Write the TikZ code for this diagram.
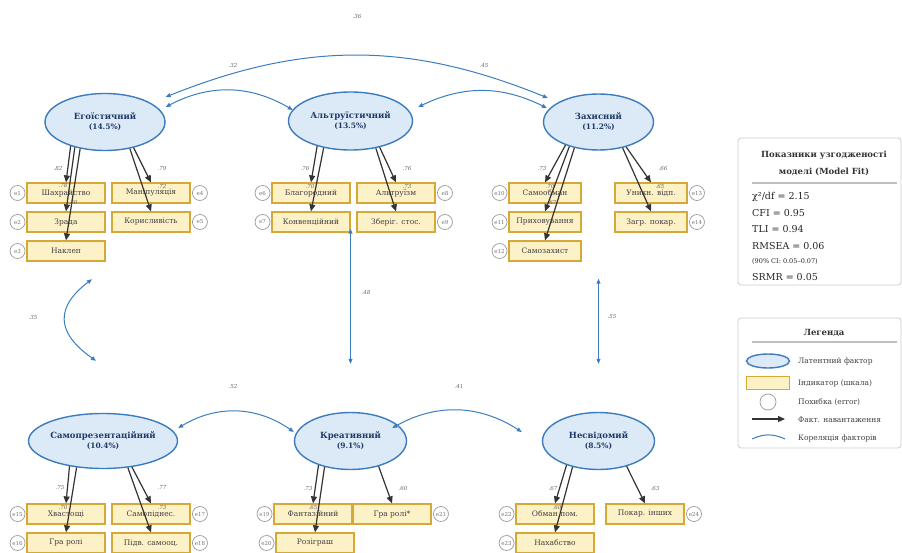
\documentclass[tikz,border=0pt]{standalone}
\usepackage{fontspec}
\setmainfont{DejaVu Serif}
\usetikzlibrary{shapes.geometric,arrows.meta,positioning}
\definecolor{latfill}{HTML}{DCEAF7}
\definecolor{latline}{HTML}{3C7BBD}
\definecolor{lattext}{HTML}{1F3A66}
\definecolor{indfill}{HTML}{FDF1C7}
\definecolor{indline}{HTML}{D6A836}
\definecolor{corrblue}{HTML}{3A7EC0}
\definecolor{loadgray}{HTML}{333333}
\definecolor{errgray}{HTML}{9A9A9A}
\definecolor{panelgray}{HTML}{CCCCCC}

\begin{document}
\begin{tikzpicture}[x=1pt,y=-1pt]
  \useasboundingbox (0,0) rectangle (902,553);

  \tikzstyle{latent}=[ellipse, draw=latline, line width=1.4pt, fill=latfill, inner sep=0pt, align=center, text=lattext, font=\bfseries\fontsize{8.5}{10}\selectfont]
  \tikzstyle{ind}=[rectangle, draw=indline, line width=1.2pt, fill=indfill, minimum width=78pt, minimum height=20pt, inner sep=0pt, text=black!75, font=\fontsize{7.5}{9}\selectfont]
  \tikzstyle{err}=[circle, draw=errgray, line width=0.7pt, fill=white, minimum size=15pt, inner sep=0pt, text=black!55, font=\fontsize{5.5}{6}\selectfont]
  \tikzstyle{load}=[draw=loadgray, line width=1.2pt, -{Triangle[length=7pt,width=6pt]}]
  \tikzstyle{corr}=[draw=corrblue, line width=1pt, {Triangle[length=5pt,width=4pt]}-{Triangle[length=5pt,width=4pt]}]
  \tikzstyle{coef}=[inner sep=0pt, text=black!60, font=\itshape\fontsize{5.5}{6}\selectfont]
  \tikzstyle{panel}=[draw=panelgray, fill=white, line width=0.8pt, rounded corners=3pt]
  \tikzstyle{fit}=[anchor=west, inner sep=0pt, text=black!85, font=\fontsize{9.5}{11}\selectfont]
  \tikzstyle{legtext}=[anchor=west, inner sep=0pt, text=black!75, font=\fontsize{7.5}{9}\selectfont]

  % latent factors
  \node[latent, minimum width=120pt, minimum height=57pt] (ego) at (105,122) {Егоїстичний\\{\fontsize{7.5}{9}\selectfont (14.5\%)}};
  \node[latent, minimum width=124pt, minimum height=58pt] (alt) at (350.5,121) {Альтруїстичний\\{\fontsize{7.5}{9}\selectfont (13.5\%)}};
  \node[latent, minimum width=110pt, minimum height=56pt] (zah) at (598.5,122) {Захисний\\{\fontsize{7.5}{9}\selectfont (11.2\%)}};
  \node[latent, minimum width=134pt, minimum height=55pt] (sam) at (103,441) {Самопрезентаційний\\{\fontsize{7.5}{9}\selectfont (10.4\%)}};
  \node[latent, minimum width=112pt, minimum height=57pt] (kre) at (350.5,441) {Креативний\\{\fontsize{7.5}{9}\selectfont (9.1\%)}};
  \node[latent, minimum width=112pt, minimum height=57pt] (nes) at (598.5,441) {Несвідомий\\{\fontsize{7.5}{9}\selectfont (8.5\%)}};

  % indicators
  \node[ind] (shah) at (66,193) {Шахрайство};
  \node[ind] (zrada) at (66,222) {Зрада};
  \node[ind] (naklep) at (66,251) {Наклеп};
  \node[ind] (manip) at (151,193) {Маніпуляція};
  \node[ind] (koryst) at (151,222) {Корисливість};

  \node[ind] (blag) at (311,193) {Благородний};
  \node[ind] (konv) at (311,222) {Конвенційний};
  \node[ind] (altr) at (396,193) {Альтруїзм};
  \node[ind] (zber) at (396,222) {Зберіг. стос.};

  \node[ind, minimum width=72pt] (samoob) at (545,193) {Самообман};
  \node[ind, minimum width=72pt] (pryh) at (545,222) {Приховування};
  \node[ind, minimum width=72pt] (samoz) at (545,251) {Самозахист};
  \node[ind, minimum width=72pt] (unykn) at (651,193) {Уникн. відп.};
  \node[ind, minimum width=72pt] (zagr) at (651,222) {Загр. покар.};

  \node[ind] (hvast) at (66,514) {Хвастощі};
  \node[ind] (graroli) at (66,543) {Гра ролі};
  \node[ind] (samop) at (151,514) {Самопіднес.};
  \node[ind] (pidv) at (151,543) {Підв. самооц.};

  \node[ind] (fant) at (313,514) {Фантазійний};
  \node[ind] (rozig) at (315,543) {Розіграш};
  \node[ind] (grarolis) at (392,514) {Гра ролі*};

  \node[ind] (obman) at (555,514) {Обман пом.};
  \node[ind] (nahab) at (555,543) {Нахабство};
  \node[ind] (pokar) at (645,514) {Покар. інших};

  % errors
  \node[err, left=1pt of shah] (e1) {e1};
  \node[err, left=1pt of zrada] (e2) {e2};
  \node[err, left=1pt of naklep] (e3) {e3};
  \node[err, right=1.5pt of manip] (e4) {e4};
  \node[err, right=1.5pt of koryst] (e5) {e5};
  \node[err, left=1pt of blag] (e6) {e6};
  \node[err, left=1pt of konv] (e7) {e7};
  \node[err, right=1.5pt of altr] (e8) {e8};
  \node[err, right=1.5pt of zber] (e9) {e9};
  \node[err, left=1pt of samoob] (e10) {e10};
  \node[err, left=1pt of pryh] (e11) {e11};
  \node[err, left=1pt of samoz] (e12) {e12};
  \node[err, right=1.5pt of unykn] (e13) {e13};
  \node[err, right=1.5pt of zagr] (e14) {e14};
  \node[err, left=1pt of hvast] (e15) {e15};
  \node[err, left=1pt of graroli] (e16) {e16};
  \node[err, right=1.5pt of samop] (e17) {e17};
  \node[err, right=1.5pt of pidv] (e18) {e18};
  \node[err, left=1pt of fant] (e19) {e19};
  \node[err, left=1pt of rozig] (e20) {e20};
  \node[err, right=1.5pt of grarolis] (e21) {e21};
  \node[err, left=1pt of obman] (e22) {e22};
  \node[err, left=1pt of nahab] (e23) {e23};
  \node[err, right=1.5pt of pokar] (e24) {e24};

  % loadings
  \draw[load] (ego.-145) -- (shah.north);
  \draw[load] (ego.-140) -- (zrada.north);
  \draw[load] (ego.-133) -- (naklep.north);
  \draw[load] (ego.-42) -- (manip.north);
  \draw[load] (ego.-47) -- (koryst.north);
  \draw[load] (alt.-143) -- (blag.north);
  \draw[load] (alt.-135) -- (konv.north);
  \draw[load] (alt.-42) -- (altr.north);
  \draw[load] (alt.-47) -- (zber.north);
  \draw[load] (zah.-145) -- (samoob.north);
  \draw[load] (zah.-140) -- (pryh.north);
  \draw[load] (zah.-133) -- (samoz.north);
  \draw[load] (zah.-42) -- (unykn.north);
  \draw[load] (zah.-47) -- (zagr.north);
  \draw[load] (sam.-143) -- (hvast.north);
  \draw[load] (sam.-135) -- (graroli.north);
  \draw[load] (sam.-42) -- (samop.north);
  \draw[load] (sam.-47) -- (pidv.north);
  \draw[load] (kre.-143) -- (fant.north);
  \draw[load] (kre.-135) -- (rozig.north);
  \draw[load] (kre.-42) -- (grarolis.north);
  \draw[load] (nes.-143) -- (obman.north);
  \draw[load] (nes.-135) -- (nahab.north);
  \draw[load] (nes.-42) -- (pokar.north);

  \node[coef] (l1) at (58,169) {.82};
  \node[coef] (l2) at (63,185) {.78};
  \node[coef] (l3) at (73,202) {.80};
  \node[coef] (l4) at (162,169) {.79};
  \node[coef] (l5) at (162,186) {.72};
  \node[coef] (l6) at (305,169) {.76};
  \node[coef] (l7) at (310,186) {.70};
  \node[coef] (l8) at (407,169) {.76};
  \node[coef] (l9) at (407,186) {.73};
  \node[coef] (l10) at (542,169) {.73};
  \node[coef] (l11) at (550,186) {.70};
  \node[coef] (l12) at (552,202) {.67};
  \node[coef] (l13) at (663,169) {.66};
  \node[coef] (l14) at (660,186) {.65};
  \node[coef] (l15) at (60,488) {.75};
  \node[coef] (l16) at (63,507) {.70};
  \node[coef] (l17) at (162,488) {.77};
  \node[coef] (l18) at (162,507) {.73};
  \node[coef] (l19) at (308,488) {.73};
  \node[coef] (l20) at (313,507) {.65};
  \node[coef] (l21) at (403,488) {.60};
  \node[coef] (l22) at (553,488) {.67};
  \node[coef] (l23) at (557,507) {.60};
  \node[coef] (l24) at (655,488) {.63};

  % factor correlations
  \draw[corr] ([yshift=25pt]ego.east) to[bend left=22] ([xshift=5pt,yshift=24pt]zah.west);
  \draw[corr] ([yshift=15pt]ego.east) to[bend left=29] ([xshift=5pt,yshift=11pt]alt.west);
  \draw[corr] ([xshift=5pt,yshift=14pt]alt.east) to[bend left=26] ([xshift=4pt,yshift=14pt]zah.west);
  \draw[corr] ([xshift=-13pt,yshift=-128pt]ego.south) .. controls +(-37,28) and +(-40,-28) .. ([xshift=-7pt,yshift=52pt]sam.north);
  \draw[corr] ([yshift=-78pt]alt.south) -- ([yshift=48pt]kre.north);
  \draw[corr] ([yshift=-128pt]zah.south) -- ([yshift=48pt]nes.north);
  \draw[corr] ([yshift=13pt]sam.east) to[bend left=33] ([yshift=9pt]kre.west);
  \draw[corr] ([xshift=-15pt,yshift=13pt]kre.east) to[bend left=31] ([xshift=-20pt,yshift=9pt]nes.west);

  \node[coef] (r1) at (357,17) {.36};
  \node[coef] (r2) at (233,66) {.32};
  \node[coef] (r3) at (484,66) {.45};
  \node[coef] (r4) at (33,317) {.35};
  \node[coef] (r5) at (366,292) {.48};
  \node[coef] (r6) at (612,317) {.55};
  \node[coef] (r7) at (233,386) {.52};
  \node[coef] (r8) at (459,386) {.41};

  % model fit
  \draw[panel] (738,138) rectangle (901,285);
  \node[font=\bfseries\fontsize{8.5}{10}\selectfont, text=black!80] (fit1) at (824,155) {Показники узгодженості};
  \node[font=\bfseries\fontsize{8.5}{10}\selectfont, text=black!80] (fit2) at (824,172) {моделі (Model Fit)};
  \draw[black!25, line width=1.4pt] (752,183) -- (897,183);
  \node[fit] (chi) at (752,197) {χ²/df = 2.15};
  \node[fit] (cfi) at (752,213) {CFI = 0.95};
  \node[fit] (tli) at (752,229) {TLI = 0.94};
  \node[fit] (rmsea) at (752,246) {RMSEA = 0.06};
  \node[fit, font=\fontsize{6.5}{8}\selectfont] (ci) at (752,262) {(90\% CI: 0.05–0.07)};
  \node[fit] (srmr) at (752,277) {SRMR = 0.05};

  % legend
  \draw[panel] (738,318) rectangle (901,448);
  \node[font=\bfseries\fontsize{8.5}{10}\selectfont, text=black!80] (legt) at (824,333) {Легенда};
  \draw[black!25, line width=1.4pt] (752,342) -- (897,342);
  \node[latent, minimum width=43pt, minimum height=14pt] (leglat) at (768,361) {};
  \node[ind, minimum width=43pt, minimum height=13pt] (legind) at (768,383) {};
  \node[err, minimum size=16pt] (legerr) at (768,402) {};
  \coordinate (legla) at (752,419);
  \coordinate (leglb) at (785,419);
  \draw[load] (legla) -- (leglb);
  \coordinate (legca) at (752,439);
  \coordinate (legcb) at (785,439);
  \draw[corrblue, line width=1pt] (legca) to[bend left=25] (legcb);
  \node[legtext] (lg1) at (798,361) {Латентний фактор};
  \node[legtext] (lg2) at (798,383) {Індикатор (шкала)};
  \node[legtext] (lg3) at (798,402) {Похибка (error)};
  \node[legtext] (lg4) at (798,420) {Факт. навантаження};
  \node[legtext] (lg5) at (798,438) {Кореляція факторів};
\end{tikzpicture}
\end{document}
